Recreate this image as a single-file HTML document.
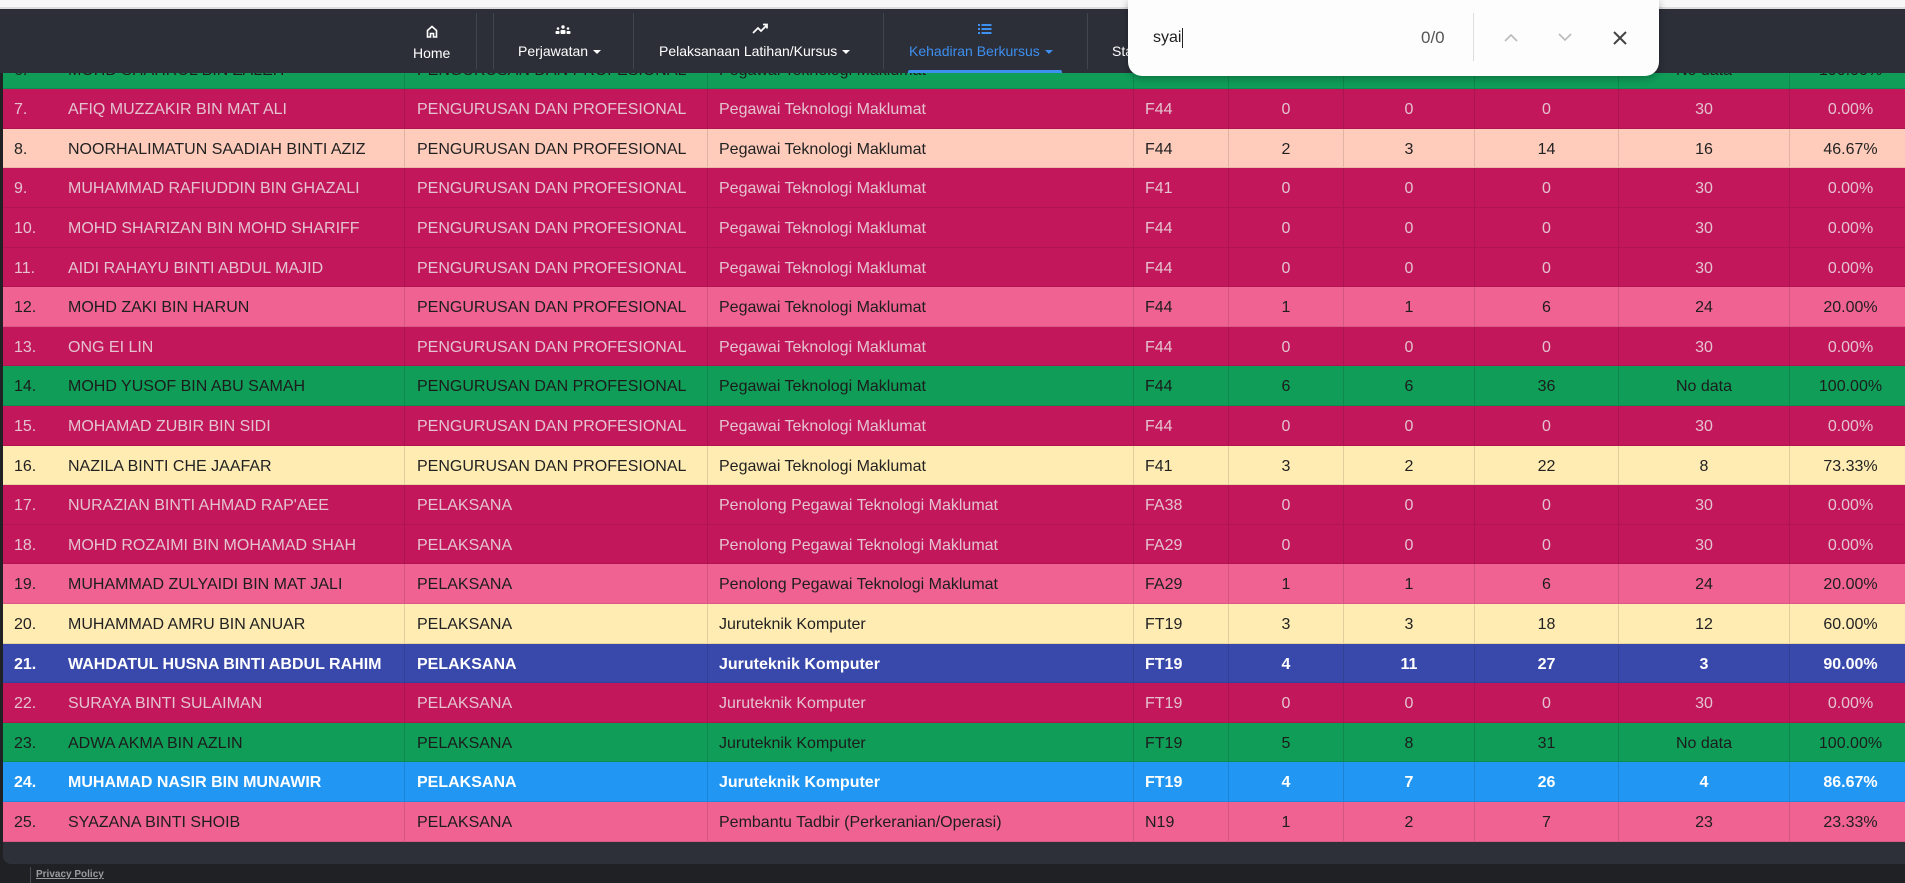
<!DOCTYPE html>
<html><head><meta charset="utf-8">
<style>
*{box-sizing:border-box;margin:0;padding:0}
html,body{width:1905px;height:883px;overflow:hidden;background:#202125;font-family:"Liberation Sans",sans-serif}
.topstrip{position:absolute;left:0;top:0;width:1905px;height:7px;background:#f7f7f7}
.topline{position:absolute;left:0;top:7px;width:1905px;height:2px;background:#dcdcdc}
.card{position:absolute;left:3px;top:40px;width:1902px;height:824px;background:#2d3039;border-bottom-left-radius:8px;overflow:hidden}
.rows{position:absolute;left:0;top:9.7px;width:1908px}
.row{display:flex;height:39.6px;border-bottom:1px solid rgba(0,0,0,0.09);font-size:16px;line-height:38.6px;white-space:nowrap}
.row div{height:100%;overflow:hidden;padding-top:2px}
.c0{width:53px;padding-left:11px}
.c1{width:348px;padding-left:12px}
.c2{width:303px;padding-left:12px;border-left:1px solid rgba(0,0,0,0.12)}
.c3{width:426px;padding-left:11px;border-left:1px solid rgba(0,0,0,0.12)}
.c4{width:95px;padding-left:11px;border-left:1px solid rgba(0,0,0,0.12)}
.c5{width:115px;text-align:center;border-left:1px solid rgba(0,0,0,0.12)}
.c6{width:131px;text-align:center;border-left:1px solid rgba(0,0,0,0.12)}
.c7{width:144px;text-align:center;border-left:1px solid rgba(0,0,0,0.12)}
.c8{width:171px;text-align:center;border-left:1px solid rgba(0,0,0,0.12)}
.c9{width:122px;text-align:center;border-left:1px solid rgba(0,0,0,0.12)}
.g{background:#0f9d58;color:#1c1c1c}
.r{background:#c2185b;color:#e4c2cf}
.p{background:#ffccbc;color:#222}
.k{background:#f06292;color:#1e1e1e}
.y{background:#ffecb3;color:#222}
.i{background:#3949ab;color:#fff;font-weight:bold}
.b{background:#2196f3;color:#fff;font-weight:bold}
.nav{position:absolute;left:0;top:9px;width:1905px;height:64px;background:#2c2f38}
.sep{position:absolute;top:13px;width:1px;height:56px;background:#41454f}
.nt{position:absolute;top:35px;font-size:14px;color:#fff;white-space:nowrap;line-height:20px}
.ic{position:absolute;top:21px}
.caret{display:inline-block;width:0;height:0;border-left:4px solid transparent;border-right:4px solid transparent;border-top:4px solid currentColor;margin-left:5px;vertical-align:middle}
.find{position:absolute;left:1128px;top:0;width:531px;height:76px;background:#fdfdfd;border-radius:0 0 14px 14px;box-shadow:0 2px 8px rgba(0,0,0,0.3)}
.footer{position:absolute;left:0;top:864px;width:1905px;height:19px;background:#202125}
</style></head><body>
<div class="topstrip"></div><div class="topline"></div>
<div class="card"><div class="rows">
<div class="row g"><div class="c0">6.</div><div class="c1">MOHD SHAHRUL BIN ZALEH</div><div class="c2">PENGURUSAN DAN PROFESIONAL</div><div class="c3">Pegawai Teknologi Maklumat</div><div class="c4">F44</div><div class="c5">6</div><div class="c6">6</div><div class="c7">36</div><div class="c8">No data</div><div class="c9">100.00%</div></div>
<div class="row r"><div class="c0">7.</div><div class="c1">AFIQ MUZZAKIR BIN MAT ALI</div><div class="c2">PENGURUSAN DAN PROFESIONAL</div><div class="c3">Pegawai Teknologi Maklumat</div><div class="c4">F44</div><div class="c5">0</div><div class="c6">0</div><div class="c7">0</div><div class="c8">30</div><div class="c9">0.00%</div></div>
<div class="row p"><div class="c0">8.</div><div class="c1">NOORHALIMATUN SAADIAH BINTI AZIZ</div><div class="c2">PENGURUSAN DAN PROFESIONAL</div><div class="c3">Pegawai Teknologi Maklumat</div><div class="c4">F44</div><div class="c5">2</div><div class="c6">3</div><div class="c7">14</div><div class="c8">16</div><div class="c9">46.67%</div></div>
<div class="row r"><div class="c0">9.</div><div class="c1">MUHAMMAD RAFIUDDIN BIN GHAZALI</div><div class="c2">PENGURUSAN DAN PROFESIONAL</div><div class="c3">Pegawai Teknologi Maklumat</div><div class="c4">F41</div><div class="c5">0</div><div class="c6">0</div><div class="c7">0</div><div class="c8">30</div><div class="c9">0.00%</div></div>
<div class="row r"><div class="c0">10.</div><div class="c1">MOHD SHARIZAN BIN MOHD SHARIFF</div><div class="c2">PENGURUSAN DAN PROFESIONAL</div><div class="c3">Pegawai Teknologi Maklumat</div><div class="c4">F44</div><div class="c5">0</div><div class="c6">0</div><div class="c7">0</div><div class="c8">30</div><div class="c9">0.00%</div></div>
<div class="row r"><div class="c0">11.</div><div class="c1">AIDI RAHAYU BINTI ABDUL MAJID</div><div class="c2">PENGURUSAN DAN PROFESIONAL</div><div class="c3">Pegawai Teknologi Maklumat</div><div class="c4">F44</div><div class="c5">0</div><div class="c6">0</div><div class="c7">0</div><div class="c8">30</div><div class="c9">0.00%</div></div>
<div class="row k"><div class="c0">12.</div><div class="c1">MOHD ZAKI BIN HARUN</div><div class="c2">PENGURUSAN DAN PROFESIONAL</div><div class="c3">Pegawai Teknologi Maklumat</div><div class="c4">F44</div><div class="c5">1</div><div class="c6">1</div><div class="c7">6</div><div class="c8">24</div><div class="c9">20.00%</div></div>
<div class="row r"><div class="c0">13.</div><div class="c1">ONG EI LIN</div><div class="c2">PENGURUSAN DAN PROFESIONAL</div><div class="c3">Pegawai Teknologi Maklumat</div><div class="c4">F44</div><div class="c5">0</div><div class="c6">0</div><div class="c7">0</div><div class="c8">30</div><div class="c9">0.00%</div></div>
<div class="row g"><div class="c0">14.</div><div class="c1">MOHD YUSOF BIN ABU SAMAH</div><div class="c2">PENGURUSAN DAN PROFESIONAL</div><div class="c3">Pegawai Teknologi Maklumat</div><div class="c4">F44</div><div class="c5">6</div><div class="c6">6</div><div class="c7">36</div><div class="c8">No data</div><div class="c9">100.00%</div></div>
<div class="row r"><div class="c0">15.</div><div class="c1">MOHAMAD ZUBIR BIN SIDI</div><div class="c2">PENGURUSAN DAN PROFESIONAL</div><div class="c3">Pegawai Teknologi Maklumat</div><div class="c4">F44</div><div class="c5">0</div><div class="c6">0</div><div class="c7">0</div><div class="c8">30</div><div class="c9">0.00%</div></div>
<div class="row y"><div class="c0">16.</div><div class="c1">NAZILA BINTI CHE JAAFAR</div><div class="c2">PENGURUSAN DAN PROFESIONAL</div><div class="c3">Pegawai Teknologi Maklumat</div><div class="c4">F41</div><div class="c5">3</div><div class="c6">2</div><div class="c7">22</div><div class="c8">8</div><div class="c9">73.33%</div></div>
<div class="row r"><div class="c0">17.</div><div class="c1">NURAZIAN BINTI AHMAD RAP'AEE</div><div class="c2">PELAKSANA</div><div class="c3">Penolong Pegawai Teknologi Maklumat</div><div class="c4">FA38</div><div class="c5">0</div><div class="c6">0</div><div class="c7">0</div><div class="c8">30</div><div class="c9">0.00%</div></div>
<div class="row r"><div class="c0">18.</div><div class="c1">MOHD ROZAIMI BIN MOHAMAD SHAH</div><div class="c2">PELAKSANA</div><div class="c3">Penolong Pegawai Teknologi Maklumat</div><div class="c4">FA29</div><div class="c5">0</div><div class="c6">0</div><div class="c7">0</div><div class="c8">30</div><div class="c9">0.00%</div></div>
<div class="row k"><div class="c0">19.</div><div class="c1">MUHAMMAD ZULYAIDI BIN MAT JALI</div><div class="c2">PELAKSANA</div><div class="c3">Penolong Pegawai Teknologi Maklumat</div><div class="c4">FA29</div><div class="c5">1</div><div class="c6">1</div><div class="c7">6</div><div class="c8">24</div><div class="c9">20.00%</div></div>
<div class="row y"><div class="c0">20.</div><div class="c1">MUHAMMAD AMRU BIN ANUAR</div><div class="c2">PELAKSANA</div><div class="c3">Juruteknik Komputer</div><div class="c4">FT19</div><div class="c5">3</div><div class="c6">3</div><div class="c7">18</div><div class="c8">12</div><div class="c9">60.00%</div></div>
<div class="row i"><div class="c0">21.</div><div class="c1">WAHDATUL HUSNA BINTI ABDUL RAHIM</div><div class="c2">PELAKSANA</div><div class="c3">Juruteknik Komputer</div><div class="c4">FT19</div><div class="c5">4</div><div class="c6">11</div><div class="c7">27</div><div class="c8">3</div><div class="c9">90.00%</div></div>
<div class="row r"><div class="c0">22.</div><div class="c1">SURAYA BINTI SULAIMAN</div><div class="c2">PELAKSANA</div><div class="c3">Juruteknik Komputer</div><div class="c4">FT19</div><div class="c5">0</div><div class="c6">0</div><div class="c7">0</div><div class="c8">30</div><div class="c9">0.00%</div></div>
<div class="row g"><div class="c0">23.</div><div class="c1">ADWA AKMA BIN AZLIN</div><div class="c2">PELAKSANA</div><div class="c3">Juruteknik Komputer</div><div class="c4">FT19</div><div class="c5">5</div><div class="c6">8</div><div class="c7">31</div><div class="c8">No data</div><div class="c9">100.00%</div></div>
<div class="row b"><div class="c0">24.</div><div class="c1">MUHAMAD NASIR BIN MUNAWIR</div><div class="c2">PELAKSANA</div><div class="c3">Juruteknik Komputer</div><div class="c4">FT19</div><div class="c5">4</div><div class="c6">7</div><div class="c7">26</div><div class="c8">4</div><div class="c9">86.67%</div></div>
<div class="row k"><div class="c0">25.</div><div class="c1">SYAZANA BINTI SHOIB</div><div class="c2">PELAKSANA</div><div class="c3">Pembantu Tadbir (Perkeranian/Operasi)</div><div class="c4">N19</div><div class="c5">1</div><div class="c6">2</div><div class="c7">7</div><div class="c8">23</div><div class="c9">23.33%</div></div>
</div></div>

<div class="nav">
<div class="sep" style="left:476px;top:4px"></div><div class="sep" style="left:493px;top:4px"></div><div class="sep" style="left:633px;top:4px"></div><div class="sep" style="left:883px;top:4px"></div><div class="sep" style="left:1087px;top:4px"></div>
<svg class="ic" style="left:426px;top:16px" width="12" height="13" viewBox="0 0 12 13"><path d="M1.5 12V5.5L6 1.5 10.5 5.5V12H7.5V8.5H4.5V12Z" fill="none" stroke="#fff" stroke-width="1.6"/></svg>
<div class="nt" style="left:413px;top:34px">Home</div>
<svg class="ic" style="left:555px;top:16px" width="16" height="10" viewBox="0 0 16 10"><circle cx="8" cy="2" r="1.7" fill="#fff"/><circle cx="3" cy="3.5" r="1.3" fill="#fff"/><circle cx="13" cy="3.5" r="1.3" fill="#fff"/><rect x="5.5" y="5" width="5" height="4" rx="1" fill="#fff"/><rect x="0.5" y="6" width="4" height="3" rx="1" fill="#fff"/><rect x="11.5" y="6" width="4" height="3" rx="1" fill="#fff"/></svg>
<div class="nt" style="left:518px;top:32px">Perjawatan<span class="caret"></span></div>
<svg class="ic" style="left:752px;top:14px" width="16" height="11" viewBox="0 0 16 11"><path d="M1 10L6 5 9 8 15 2M11 1.5H15V5.5" fill="none" stroke="#fff" stroke-width="1.7"/></svg>
<div class="nt" style="left:659px;top:32px">Pelaksanaan Latihan/Kursus<span class="caret"></span></div>
<svg class="ic" style="left:978px;top:15px" width="14" height="10" viewBox="0 0 14 10"><rect x="0" y="0" width="2" height="2" fill="#3d8ff0"/><rect x="3.5" y="0" width="10" height="2" fill="#3d8ff0"/><rect x="0" y="4" width="2" height="2" fill="#3d8ff0"/><rect x="3.5" y="4" width="10" height="2" fill="#3d8ff0"/><rect x="0" y="8" width="2" height="2" fill="#3d8ff0"/><rect x="3.5" y="8" width="10" height="2" fill="#3d8ff0"/></svg>
<div class="nt" style="left:909px;top:32px;color:#3d8ff0">Kehadiran Berkursus<span class="caret"></span></div>
<div style="position:absolute;left:908px;top:61px;width:154px;height:3px;background:#3d8ff0;border-radius:2px 2px 0 0"></div>
<div class="nt" style="left:1112px;top:32px">Statistik<span class="caret"></span></div>
</div>

<div class="find">
<div style="position:absolute;left:25px;top:28px;font-size:16px;color:#222;line-height:20px">syai<span style="display:inline-block;width:1px;height:20px;background:#222;vertical-align:top;margin-left:1px"></span></div>
<div style="position:absolute;left:293px;top:28px;font-size:17px;color:#555;line-height:20px">0/0</div>
<div style="position:absolute;left:345px;top:13px;width:1px;height:48px;background:#ddd"></div>
<svg style="position:absolute;left:376px;top:33px" width="14" height="9" viewBox="0 0 14 9"><path d="M1 8L7 2 13 8" fill="none" stroke="#bbb" stroke-width="1.6"/></svg>
<svg style="position:absolute;left:430px;top:33px" width="14" height="9" viewBox="0 0 14 9"><path d="M1 1L7 7 13 1" fill="none" stroke="#bbb" stroke-width="1.6"/></svg>
<svg style="position:absolute;left:485px;top:31px" width="14" height="14" viewBox="0 0 14 14"><path d="M1 1L13 13M13 1L1 13" stroke="#444" stroke-width="2"/></svg>
</div>

<div class="footer">
<div style="position:absolute;left:30px;top:3px;width:1px;height:16px;background:#4a4d55"></div>
<div style="position:absolute;left:36px;top:5px;font-size:10px;font-weight:bold;color:#9a9ca2;text-decoration:underline;line-height:12px">Privacy Policy</div>
</div>
</body></html>
